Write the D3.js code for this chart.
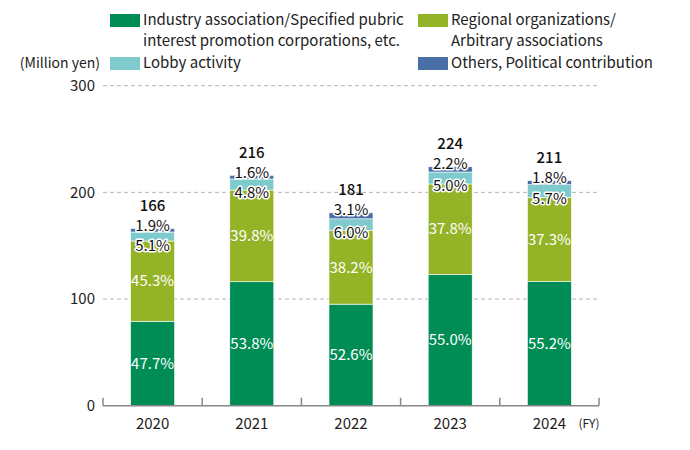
<!DOCTYPE html>
<html lang="en">
<head>
<meta charset="UTF-8">
<title>Stacked bar chart</title>
<script src="https://d3js.org/d3.v7.min.js"></script>
<style>
  body { margin: 0; background: #fff; }
  text { font-family: "Noto Sans CJK JP", "Noto Sans", sans-serif; }
  .pct-in { fill: #fff; font-size: 15px; }
  .pct-out { fill: #111; font-size: 15px; stroke: #fff; stroke-width: 3px; paint-order: stroke; stroke-linejoin: round; }
  .total { fill: #111; font-size: 15px; font-weight: 500; }
  .tick-lbl { fill: #222; font-size: 15px; }
  .legend { fill: #222; font-size: 15px; }
</style>
</head>
<body>
<svg id="main" width="690" height="450"></svg>
<script>
  // data
  const years = ['2020', '2021', '2022', '2023', '2024'];
  const totals = [166, 216, 181, 224, 211];
  const industryPct = [47.7, 53.8, 52.6, 55.0, 55.2];
  const regionalPct = [45.3, 39.8, 38.2, 37.8, 37.3];
  const lobbyPct = [5.1, 4.8, 6.0, 5.0, 5.7];
  const othersPct = [1.9, 1.6, 3.1, 2.2, 1.8];
  const yTicks = [0, 100, 200, 300];

  const keys = ['industry', 'regional', 'lobby', 'others'];
  const colors = ['#008c55', '#95b327', '#7ecacc', '#4a6ea8'];
  const legendLines = [
    ['Industry association/Specified pubric', 'interest promotion corporations, etc.'],
    ['Regional organizations/', 'Arbitrary associations'],
    ['Lobby activity'],
    ['Others, Political contribution']
  ];

  const rows = years.map(function (y, i) {
    return {
      year: y, total: totals[i],
      industry: totals[i] * industryPct[i] / 100,
      regional: totals[i] * regionalPct[i] / 100,
      lobby: totals[i] * lobbyPct[i] / 100,
      others: totals[i] * othersPct[i] / 100,
      pct: [industryPct[i], regionalPct[i], lobbyPct[i], othersPct[i]]
    };
  });

  const svg = d3.select('svg#main');

  const x = d3.scaleBand().domain(years).range([103, 599]).paddingInner(0).paddingOuter(0);
  const y = d3.scaleLinear().domain([0, 300]).range([405.7, 85.7]);
  const barW = 44;

  // grid lines
  svg.append('g').selectAll('line')
    .data(yTicks.filter(function (d) { return d > 0; }))
    .enter().append('line')
    .attr('x1', 103).attr('x2', 597)
    .attr('y1', function (d) { return y(d); })
    .attr('y2', function (d) { return y(d); })
    .attr('stroke', '#b4b4b4').attr('stroke-width', 1)
    .attr('stroke-dasharray', '4,3');

  // y tick labels
  svg.append('g').selectAll('text')
    .data(yTicks)
    .enter().append('text')
    .attr('class', 'tick-lbl')
    .attr('x', 95)
    .attr('y', function (d) { return y(d); })
    .attr('dy', '0.35em')
    .attr('text-anchor', 'end')
    .text(function (d) { return d; });

  svg.append('text').attr('class', 'tick-lbl')
    .attr('x', 100).attr('y', 63).attr('dy', '0.35em')
    .attr('text-anchor', 'end').style('font-size', '14px')
    .text('(Million yen)');

  // stacked bars
  const series = d3.stack().keys(keys)(rows);
  const groups = svg.append('g').selectAll('g')
    .data(series)
    .enter().append('g')
    .attr('fill', function (d, i) { return colors[i]; });

  groups.selectAll('rect')
    .data(function (d) { return d; })
    .enter().append('rect')
    .attr('x', function (d) { return x(d.data.year) + (x.bandwidth() - barW) / 2; })
    .attr('width', barW)
    .attr('y', function (d) { return y(d[1]); })
    .attr('height', function (d) { return y(d[0]) - y(d[1]); })
    .attr('stroke', '#fff').attr('stroke-width', 0.6);

  // x axis
  const axisY = y(0);
  svg.append('line')
    .attr('x1', 103).attr('x2', 599).attr('y1', axisY).attr('y2', axisY)
    .attr('stroke', '#888').attr('stroke-width', 1.5);
  const bounds = years.map(function (d) { return x(d); }).concat([x.range()[1]]);
  svg.append('g').selectAll('line')
    .data(bounds)
    .enter().append('line')
    .attr('x1', function (d) { return d; }).attr('x2', function (d) { return d; })
    .attr('y1', axisY).attr('y2', axisY - 8)
    .attr('stroke', '#888').attr('stroke-width', 1.5);

  svg.append('g').selectAll('text')
    .data(years)
    .enter().append('text')
    .attr('class', 'tick-lbl')
    .attr('x', function (d) { return x(d) + x.bandwidth() / 2; })
    .attr('y', 424).attr('dy', '0.35em')
    .attr('text-anchor', 'middle')
    .text(function (d) { return d; });

  svg.append('text').attr('class', 'tick-lbl')
    .attr('x', 589).attr('y', 424).attr('dy', '0.35em')
    .attr('text-anchor', 'middle').style('font-size', '12px')
    .text('(FY)');

  // labels inside the bars
  const labels = svg.append('g');
  rows.forEach(function (r) {
    const cx = x(r.year) + x.bandwidth() / 2;
    const s0 = 0, s1 = r.industry, s2 = s1 + r.regional, s3 = s2 + r.lobby, s4 = s3 + r.others;
    labels.append('text').attr('class', 'pct-in')
      .attr('x', cx).attr('y', (y(s0) + y(s1)) / 2).attr('dy', '0.35em')
      .attr('text-anchor', 'middle').text(r.pct[0].toFixed(1) + '%');
    labels.append('text').attr('class', 'pct-in')
      .attr('x', cx).attr('y', (y(s1) + y(s2)) / 2).attr('dy', '0.35em')
      .attr('text-anchor', 'middle').text(r.pct[1].toFixed(1) + '%');
    labels.append('text').attr('class', 'pct-out')
      .attr('x', cx).attr('y', y(s3) + 14).attr('dy', '0.35em')
      .attr('text-anchor', 'middle').text(r.pct[2].toFixed(1) + '%');
    labels.append('text').attr('class', 'pct-out')
      .attr('x', cx).attr('y', y(s4) - 3).attr('dy', '0.35em')
      .attr('text-anchor', 'middle').text(r.pct[3].toFixed(1) + '%');
    labels.append('text').attr('class', 'total')
      .attr('x', cx).attr('y', y(s4) - 23).attr('dy', '0.35em')
      .attr('text-anchor', 'middle').text(r.total);
  });

  // legend
  const legendPos = [[110, 20], [418, 20], [110, 63], [418, 63]];
  const lg = svg.append('g').selectAll('g')
    .data(legendLines)
    .enter().append('g')
    .attr('transform', function (d, i) { return 'translate(' + legendPos[i][0] + ',' + legendPos[i][1] + ')'; });
  lg.append('rect')
    .attr('x', 0).attr('y', -6).attr('width', 30).attr('height', 13)
    .attr('fill', function (d, i) { return colors[i]; });
  lg.each(function (d) {
    const g = d3.select(this);
    d.forEach(function (line, j) {
      g.append('text').attr('class', 'legend')
        .attr('x', 33).attr('y', j * 21).attr('dy', '0.35em')
        .text(line);
    });
  });
</script>
</body>
</html>
